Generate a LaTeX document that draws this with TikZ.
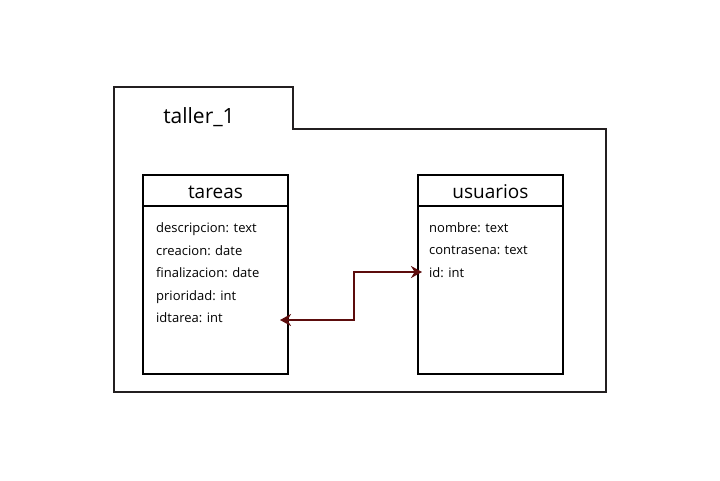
\documentclass[tikz,border=0pt]{standalone}
\usepackage{fontspec}
\setmainfont{Open Sans}
\usetikzlibrary{arrows.meta}
\definecolor{pkg}{HTML}{231F20}
\definecolor{arr}{HTML}{5C0C0C}
\begin{document}
\begin{tikzpicture}[x=1pt,y=-1pt,
 table/.style={draw=black,line width=2pt,minimum width=145pt,minimum height=199pt,inner sep=0pt},
 attr/.style={anchor=base west,font=\fontsize{13}{15}\selectfont,inner sep=0pt},
 head/.style={anchor=base,font=\fontsize{19}{22}\selectfont,inner sep=0pt},
 title/.style={anchor=base,font=\fontsize{21}{25}\selectfont,inner sep=0pt},
 link/.style={draw=arr,line width=1.8pt,{Stealth[length=11pt,width=12pt]}-{Stealth[length=11pt,width=12pt]}}]
\useasboundingbox (0,0) rectangle (720,480);
\fill[white] (0,0) rectangle (720,480);
\draw[pkg,line width=2pt] (114,87) -- (293,87) -- (293,129) -- (606,129) -- (606,392) -- (114,392) -- cycle;
\node[title] (pkgname) at (199,123) {taller\_1};
% tareas
\node[table] (tareas) at (215.5,274.5) {};
\draw[black,line width=2pt] ([yshift=-32pt]tareas.north west) -- ([yshift=-32pt]tareas.north east);
\node[head] (tareash) at (215.5,198) {tareas};
\node[attr] (t1) at (156,232.5) {descripcion: text};
\node[attr] (t2) at (156,255) {creacion: date};
\node[attr] (t3) at (156,277.5) {finalizacion: date};
\node[attr] (t4) at (156,300) {prioridad: int};
\node[attr] (t5) at (156,322.5) {idtarea: int};
% usuarios
\node[table] (usuarios) at (490.5,274.5) {};
\draw[black,line width=2pt] ([yshift=-32pt]usuarios.north west) -- ([yshift=-32pt]usuarios.north east);
\node[head] (usuariosh) at (490.5,198) {usuarios};
\node[attr] (u1) at (429,232) {nombre: text};
\node[attr] (u2) at (429,254.5) {contrasena: text};
\node[attr] (u3) at (429,277) {id: int};
% link
\coordinate (la) at (280,320);
\coordinate (lb) at (422,272);
\draw[link] (la) -- (354,320) -- (354,272) -- (lb);
\end{tikzpicture}
\end{document}
